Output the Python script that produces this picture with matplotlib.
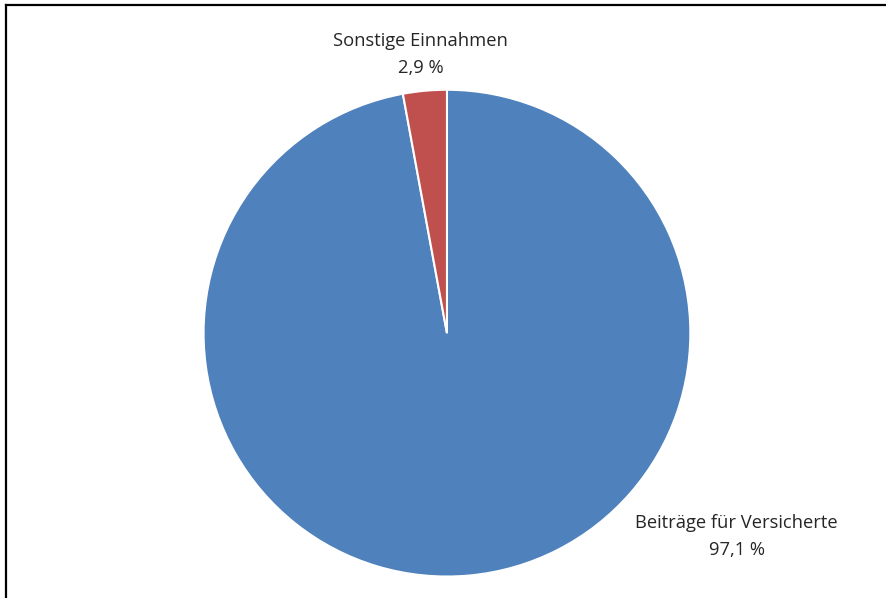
import matplotlib.pyplot as plt
from matplotlib.lines import Line2D

labels = ['Beiträge für Versicherte', 'Sonstige Einnahmen']
shares = [97.1, 2.9]
colors = ['#4F81BD', '#C0504D']

plt.rcParams['font.family'] = ['Open Sans', 'DejaVu Sans']

fig = plt.figure(figsize=(8.87, 5.98), dpi=100)
ax = fig.add_axes([0.2294, 0.0359, 0.549, 0.814])
ax.pie(shares, colors=colors, startangle=90, counterclock=False, radius=1,
       wedgeprops={'edgecolor': 'white', 'linewidth': 1.5})
ax.set_xlim(-1, 1)
ax.set_ylim(-1, 1)
ax.set_aspect('equal')

# label positions in pie units
label_pos = [(1.19, -0.835), (-0.107, 1.146)]
for name, val, (x, y) in zip(labels, shares, label_pos):
    txt = name + '\n' + ('%.1f %%' % val).replace('.', ',')
    ax.text(x, y, txt, ha='center', va='center', fontsize=13.2,
            color='#262626', linespacing=1.65, clip_on=False)

# frame (top and left only)
fig.add_artist(Line2D([6 / 887, 1], [1 - 5 / 598, 1 - 5 / 598],
                      transform=fig.transFigure, color='black', lw=1.6))
fig.add_artist(Line2D([6 / 887, 6 / 887], [0, 1 - 5 / 598],
                      transform=fig.transFigure, color='black', lw=1.6))

fig.savefig('out.png', dpi=100)
